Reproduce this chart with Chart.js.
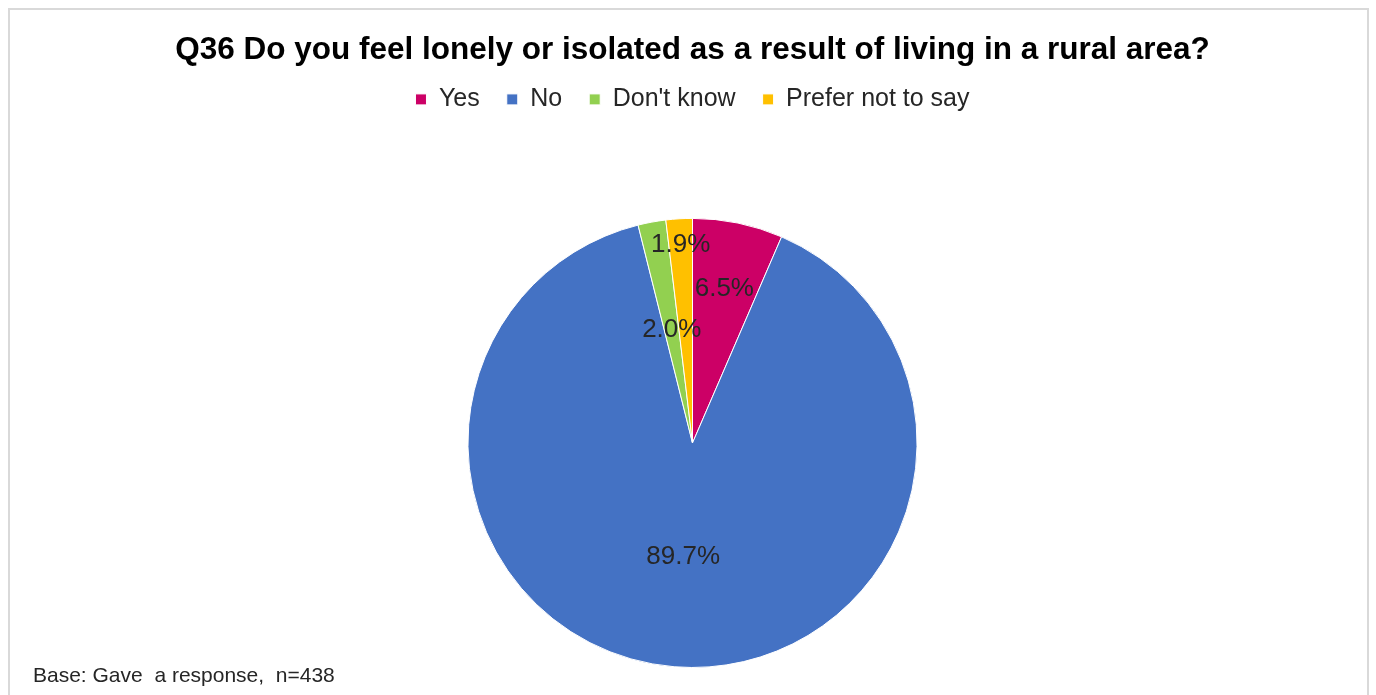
<!DOCTYPE html>
<html>
<head>
<meta charset="utf-8">
<script src="https://cdn.jsdelivr.net/npm/chart.js"></script>
<style>
  html, body { margin: 0; padding: 0; background: #fff; overflow: hidden; }
  #frame { position: absolute; left: 8px; top: 8px; width: 1357px; height: 760px; border: 2px solid #d9d9d9; }
  #wrap { position: absolute; left: 0; top: 0; width: 1376px; height: 695px; }
</style>
</head>
<body>
<div id="frame"></div>
<div id="wrap"><canvas id="pieChart"></canvas></div>
<script>
// Q36 loneliness / isolation pie
const categories = ["Yes", "No", "Don't know", "Prefer not to say"];
const shares = [6.5, 89.7, 2.0, 1.9];
const sliceColors = ["#cc0066", "#4472c4", "#92d050", "#ffc000"];
const chartTitle = "Q36 Do you feel lonely or isolated as a result of living in a rural area?";
const footNote = "Base: Gave  a response,  n=438";

// how far out (fraction of radius) each % label sits, like the Excel layout
const labelDist = [0.70, 0.51, 0.51, 0.885];

// push the pie down below the legend
const legendSpacer = {
  id: "legendSpacer",
  beforeInit(chart) {
    const origFit = chart.legend.fit;
    chart.legend.fit = function fit() {
      origFit.bind(chart.legend)();
      this.height += 96;
    };
  }
};

// percentage labels drawn on the slices
const sliceLabels = {
  id: "sliceLabels",
  afterDatasetsDraw(chart) {
    const ctx = chart.ctx;
    const meta = chart.getDatasetMeta(0);
    ctx.save();
    ctx.font = "26px Arial, 'Liberation Sans', sans-serif";
    ctx.fillStyle = "#262626";
    ctx.textAlign = "center";
    ctx.textBaseline = "middle";
    meta.data.forEach((arc, i) => {
      const p = arc.getProps(["x", "y", "startAngle", "endAngle", "outerRadius"], true);
      const mid = (p.startAngle + p.endAngle) / 2;
      const r = p.outerRadius * labelDist[i];
      ctx.fillText(shares[i].toFixed(1) + "%", p.x + Math.cos(mid) * r, p.y + Math.sin(mid) * r);
    });
    ctx.restore();
  }
};

// base note bottom-left
const baseNote = {
  id: "baseNote",
  afterDraw(chart) {
    const ctx = chart.ctx;
    ctx.save();
    ctx.font = "21px Arial, 'Liberation Sans', sans-serif";
    ctx.fillStyle = "#262626";
    ctx.textAlign = "left";
    ctx.textBaseline = "middle";
    ctx.fillText(footNote, 33, 676);
    ctx.restore();
  }
};

new Chart(document.getElementById("pieChart"), {
  type: "pie",
  data: {
    labels: categories,
    datasets: [{
      data: shares,
      backgroundColor: sliceColors,
      borderColor: "#ffffff",
      borderWidth: 1
    }]
  },
  options: {
    responsive: true,
    maintainAspectRatio: false,
    animation: false,
    layout: { padding: { left: 9, bottom: 27 } },
    plugins: {
      title: {
        display: true,
        text: chartTitle,
        color: "#000",
        font: { family: "Arial, 'Liberation Sans', sans-serif", size: 31.5, weight: "bold", lineHeight: 0.6 },
        padding: { top: 41, bottom: 0 }
      },
      legend: {
        display: true,
        position: "top",
        labels: {
          color: "#262626",
          font: { family: "Arial, 'Liberation Sans', sans-serif", size: 25 },
          boxWidth: 11,
          boxHeight: 11,
          padding: 27
        }
      },
      tooltip: { enabled: false }
    }
  },
  plugins: [legendSpacer, sliceLabels, baseNote]
});
</script>
</body>
</html>
